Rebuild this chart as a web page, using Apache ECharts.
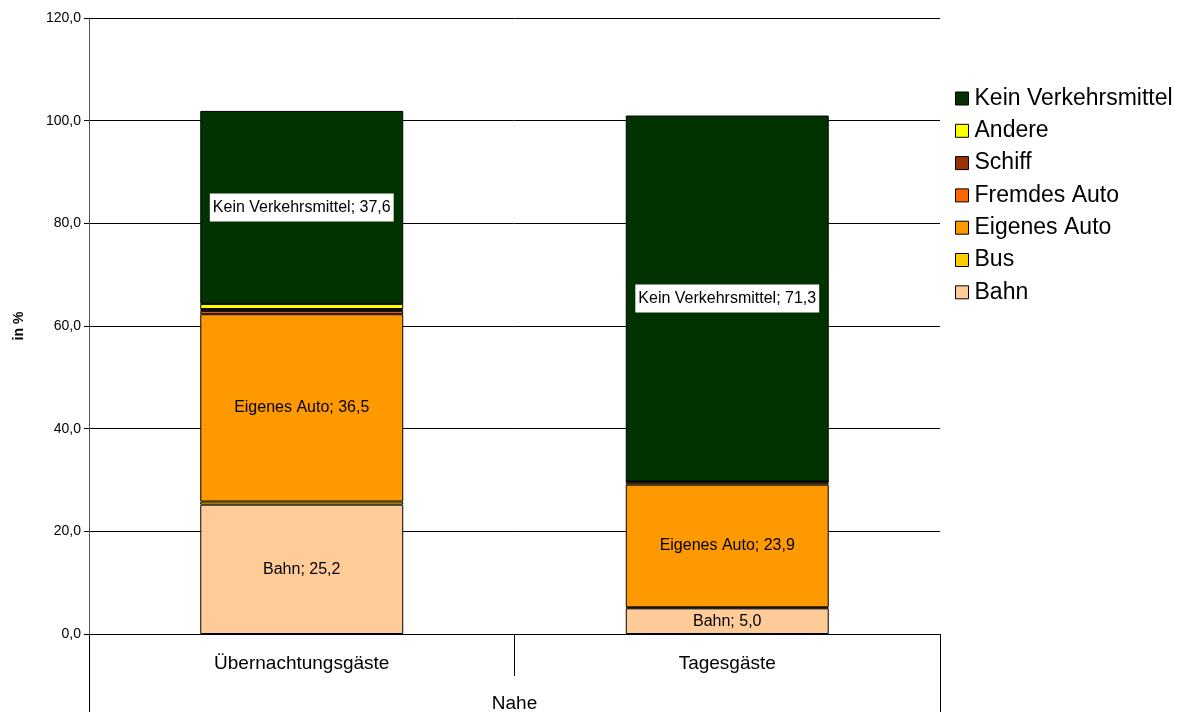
<!DOCTYPE html>
<html><head><meta charset="utf-8">
<script src="https://cdn.jsdelivr.net/npm/echarts@6/dist/echarts.min.js"></script>
<style>html,body{margin:0;padding:0;background:#fff}#c{width:1182px;height:713px}</style>
</head><body><div id="c"></div>
<script>
const categories = ['Übernachtungsgäste', 'Tagesgäste'];
const groupLabel = ['Nahe'];
const bahn = [25.2, 5.0];
const bus = [0.6, 0.2];
const eigenesAuto = [36.5, 23.9];
const fremdesAuto = [0.6, 0.4];
const schiff = [0.4, 0.2];
const andere = [1.0, 0];
const keinVerkehrsmittel = [37.6, 71.3];
const seriesNames = ['Bahn', 'Bus', 'Eigenes Auto', 'Fremdes Auto', 'Schiff', 'Andere', 'Kein Verkehrsmittel'];
const seriesValues = [bahn, bus, eigenesAuto, fremdesAuto, schiff, andere, keinVerkehrsmittel];
const seriesColors = ['#FFCC99', '#FFCC00', '#FF9900', '#FF6600', '#993300', '#FFFF00', '#003300'];
const labelled = {'Bahn': false, 'Eigenes Auto': false, 'Kein Verkehrsmittel': true};

const FONT = '"Liberation Sans", Arial, sans-serif';
const fmt = v => v.toFixed(1).replace('.', ',');

const series = seriesNames.map((name, i) => ({
  name, type: 'bar', stack: 'total', barWidth: '47.7%',
  xAxisIndex: 0,
  itemStyle: {color: seriesColors[i], borderColor: '#000', borderWidth: 1},
  label: {
    show: name in labelled,
    position: 'inside',
    fontFamily: FONT, fontSize: 16, color: '#000',
    backgroundColor: labelled[name] ? '#fff' : 'transparent',
    padding: labelled[name] ? [6, 3] : 0,
    formatter: p => p.value > 0 ? name + '; ' + fmt(p.value) : ''
  },
  emphasis: {disabled: true},
  data: seriesValues[i]
}));

const chart = echarts.init(document.getElementById('c'), null, {renderer: 'canvas'});
chart.setOption({
  animation: false,
  backgroundColor: '#fff',
  grid: {left: 89, right: 242, top: 18, bottom: 78},
  legend: {
    orient: 'vertical', left: 950, top: 82,
    itemWidth: 13, itemHeight: 13, itemGap: 9.3,
    icon: 'rect',
    data: seriesNames.slice().reverse(),
    itemStyle: {borderColor: '#000', borderWidth: 1},
    textStyle: {fontFamily: FONT, fontSize: 23, color: '#000', lineHeight: 23, padding: [0, 0, 0, 1]}
  },
  xAxis: [{
    type: 'category', data: categories, position: 'bottom',
    axisLine: {lineStyle: {color: '#000', width: 1}},
    axisTick: {show: true, length: 42, lineStyle: {color: '#000'}},
    axisLabel: {fontFamily: FONT, fontSize: 19, color: '#000', margin: 20}
  }, {
    type: 'category', data: groupLabel, position: 'bottom',
    axisLine: {show: false},
    axisTick: {show: true, length: 78, lineStyle: {color: '#000'}},
    axisLabel: {fontFamily: FONT, fontSize: 19, color: '#000', margin: 60}
  }],
  yAxis: {
    type: 'value', min: 0, max: 120, interval: 20,
    name: 'in %', nameLocation: 'middle', nameGap: 63, nameRotate: 90,
    nameTextStyle: {fontFamily: FONT, fontSize: 14, fontWeight: 'bold', color: '#000'},
    axisLine: {show: true, lineStyle: {color: '#555', width: 1}},
    axisTick: {show: true, length: 5, lineStyle: {color: '#000'}},
    axisLabel: {fontFamily: FONT, fontSize: 14, color: '#000', margin: 8, formatter: v => fmt(v)},
    splitLine: {show: true, lineStyle: {color: '#000', width: 1}}
  },
  series
});
</script></body></html>
